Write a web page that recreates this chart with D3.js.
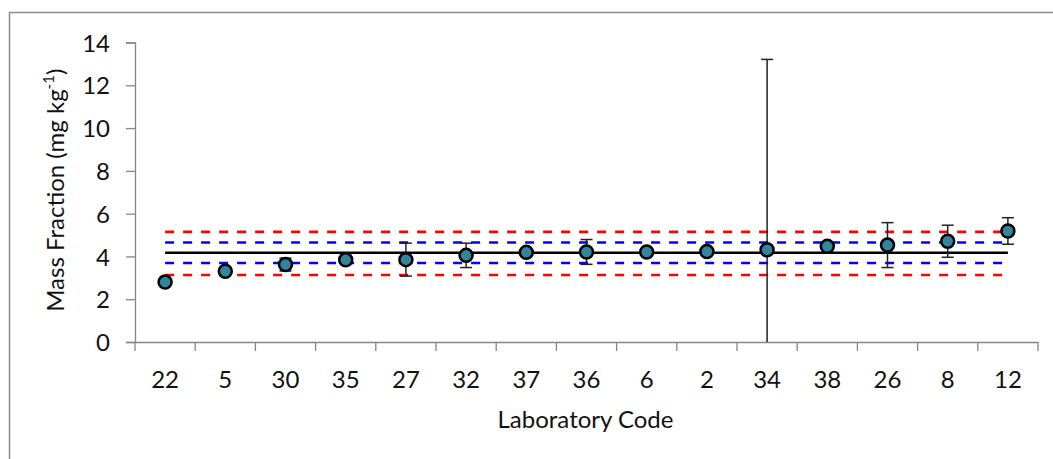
<!DOCTYPE html>
<html><head><meta charset="utf-8">
<script src="https://cdn.jsdelivr.net/npm/d3@7"></script>
<style>
html,body{margin:0;padding:0;background:#fff;}
svg{display:block;font-family:Lato,"Open Sans",sans-serif;}
</style></head>
<body>
<svg id="chart" width="1053" height="459"></svg>
<script>
// ---- data ----
const labCodes = ["22","5","30","35","27","32","37","36","6","2","34","38","26","8","12"];
const massFraction = [2.80, 3.31, 3.62, 3.84, 3.85, 4.05, 4.19, 4.21, 4.21, 4.23, 4.31, 4.47, 4.53, 4.71, 5.19];
const uncertainty = [0, 0, 0.30, 0, 0.77, 0.57, 0, 0.58, 0, 0, 8.9, 0, 1.05, 0.75, 0.62];
const consensusValue = 4.17;
const innerLimits = [3.69, 4.65];
const outerLimits = [3.13, 5.15];
const yTicks = [0, 2, 4, 6, 8, 10, 12, 14];

(function () {
// ---- layout ----
const svg = d3.select("#chart");
const pLeft = 135, pRight = 1038, pTop = 42.5, pBottom = 342;
const txt = "#111";

svg.append("rect").attr("x", 9.5).attr("y", 12.5).attr("width", 1200).attr("height", 600)
  .attr("fill", "none").attr("stroke", "#8a8a8a").attr("stroke-width", 1.5);

const x = d3.scaleBand().domain(labCodes).range([pLeft, pRight]).padding(0);
const y = d3.scaleLinear().domain([0, 14]).range([pBottom, pTop]);
const cx = d => x(d) + x.bandwidth() / 2;

// y axis
const yAxis = svg.append("g").attr("transform", `translate(${pLeft},0)`)
  .call(d3.axisLeft(y).tickValues(yTicks).tickSize(9).tickPadding(16).tickFormat(d3.format("d")));
yAxis.select(".domain").attr("stroke", "#868686").attr("stroke-width", 1.3);
yAxis.selectAll(".tick line").attr("stroke", "#868686").attr("stroke-width", 1.3);
yAxis.selectAll(".tick text").attr("font-size", 24).attr("fill", txt)
  .attr("font-family", "Lato").attr("dy", "0.36em");

// x axis
const xAxis = svg.append("g").attr("transform", `translate(0,${pBottom})`)
  .call(d3.axisBottom(x).tickSize(0).tickPadding(29));
xAxis.select(".domain").attr("stroke", "#868686").attr("stroke-width", 1.3);
xAxis.selectAll(".tick text").attr("font-size", 24).attr("fill", txt).attr("font-family", "Lato");
// band boundary ticks
const bounds = labCodes.map(d => x(d)).concat([pRight]);
svg.append("g").selectAll("line").data(bounds).join("line")
  .attr("x1", d => d).attr("x2", d => d).attr("y1", pBottom).attr("y2", pBottom + 9)
  .attr("stroke", "#868686").attr("stroke-width", 1.3);

// reference lines
const x0 = cx(labCodes[0]), x1 = cx(labCodes[labCodes.length - 1]);
const refs = [
  {v: outerLimits[0], c: "#ff0000", dash: "9,9"},
  {v: outerLimits[1], c: "#ff0000", dash: "9,9"},
  {v: innerLimits[0], c: "#0000ff", dash: "9,9"},
  {v: innerLimits[1], c: "#0000ff", dash: "9,9"},
  {v: consensusValue, c: "#000000", dash: null}
];
svg.append("g").selectAll("line").data(refs).join("line")
  .attr("x1", x0).attr("x2", x1).attr("y1", d => y(d.v)).attr("y2", d => y(d.v))
  .attr("stroke", d => d.c).attr("stroke-width", 2.6)
  .attr("stroke-dasharray", d => d.dash);

// error bars
const pts = labCodes.map((c, i) => ({c, v: massFraction[i], e: uncertainty[i]}));
const eb = svg.append("g").selectAll("g").data(pts.filter(d => d.e > 0)).join("g");
eb.append("line").attr("x1", d => cx(d.c)).attr("x2", d => cx(d.c))
  .attr("y1", d => y(Math.max(0, d.v - d.e))).attr("y2", d => y(d.v + d.e))
  .attr("stroke", "#222").attr("stroke-width", 1.5);
eb.append("line").attr("x1", d => cx(d.c) - 6).attr("x2", d => cx(d.c) + 6)
  .attr("y1", d => y(d.v + d.e)).attr("y2", d => y(d.v + d.e))
  .attr("stroke", "#222").attr("stroke-width", 1.5);
eb.filter(d => d.v - d.e > 0).append("line").attr("x1", d => cx(d.c) - 6).attr("x2", d => cx(d.c) + 6)
  .attr("y1", d => y(d.v - d.e)).attr("y2", d => y(d.v - d.e))
  .attr("stroke", "#222").attr("stroke-width", 1.5);

// markers
svg.append("g").selectAll("circle").data(pts).join("circle")
  .attr("cx", d => cx(d.c)).attr("cy", d => y(d.v)).attr("r", 6.5)
  .attr("fill", "#31869e").attr("stroke", "#000").attr("stroke-width", 2.5);

// axis titles
svg.append("text").attr("x", (pLeft + pRight) / 2 - 1).attr("y", 428).attr("text-anchor", "middle")
  .attr("font-size", 24).attr("fill", txt).text("Laboratory Code");

const yt = svg.append("text").attr("transform", `translate(64,${(pTop + pBottom) / 2 - 2}) rotate(-90)`)
  .attr("text-anchor", "middle").attr("font-size", 24).attr("fill", txt);
yt.append("tspan").text("Mass Fraction (mg kg");
yt.append("tspan").attr("font-size", 15).attr("dy", -10).text("-1");
yt.append("tspan").attr("dy", 10).text(")");
})();
</script>
</body></html>
